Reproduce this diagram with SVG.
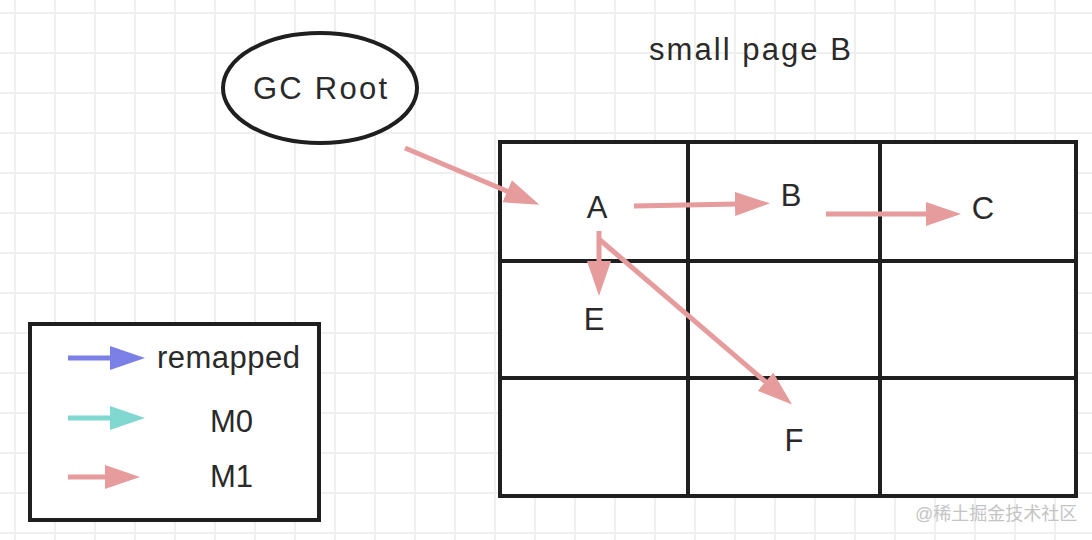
<svg xmlns="http://www.w3.org/2000/svg" width="1092" height="540" viewBox="0 0 1092 540">
<style>
text{font-family:"Liberation Sans",Arial,sans-serif;fill:#2a2a2a;font-size:31px}
.c{text-anchor:middle}
.box{fill:#fff;stroke:#1f1f1f;stroke-width:4}
.ln{fill:none;stroke:#1f1f1f;stroke-width:4}
.pk{stroke:#e69b9c;stroke-width:5;fill:none;marker-end:url(#hp)}
.bl{stroke:#7b80e6;stroke-width:5;fill:none;marker-end:url(#hb)}
.tl{stroke:#80d8d0;stroke-width:5;fill:none;marker-end:url(#ht)}
.wm{font-family:"Liberation Sans","Noto Sans CJK SC",sans-serif;font-size:18px;fill:#c4c4c4}
</style>
<defs>
<pattern id="grid" patternUnits="userSpaceOnUse" x="14" y="12" width="40" height="40">
<rect x="0" y="0" width="2" height="40" fill="#efefef"/>
<rect x="0" y="0" width="40" height="2" fill="#efefef"/>
</pattern>
<marker id="hp" markerUnits="userSpaceOnUse" markerWidth="40" markerHeight="30" refX="2" refY="12" orient="auto"><path d="M0,0 L35,12 L0,24 z" fill="#e69b9c"/></marker>
<marker id="hb" markerUnits="userSpaceOnUse" markerWidth="40" markerHeight="30" refX="2" refY="12" orient="auto"><path d="M0,0 L35,12 L0,24 z" fill="#7b80e6"/></marker>
<marker id="ht" markerUnits="userSpaceOnUse" markerWidth="40" markerHeight="30" refX="2" refY="12" orient="auto"><path d="M0,0 L35,12 L0,24 z" fill="#80d8d0"/></marker>
</defs>
<rect width="1092" height="540" fill="#fff"/>
<rect width="1092" height="540" fill="url(#grid)"/>

<g id="gc-root">
<ellipse cx="320" cy="88" rx="97" ry="55" class="box"/>
<text x="253" y="99" textLength="134" lengthAdjust="spacing">GC Root</text>
</g>

<g id="page-title"><text x="649" y="60" textLength="202" lengthAdjust="spacing">small page B</text></g>

<g id="page-table">
<rect x="500" y="142" width="576" height="354" class="box"/>
<path class="ln" d="M688,142 V496 M880,142 V496 M500,261 H1076 M500,378 H1076"/>
</g>

<g id="node-A"><text x="597" y="218" class="c">A</text></g>
<g id="node-B"><text x="791" y="206" class="c">B</text></g>
<g id="node-C"><text x="983" y="219" class="c">C</text></g>
<g id="node-E"><text x="594" y="330" class="c">E</text></g>
<g id="node-F"><text x="794" y="451" class="c">F</text></g>

<g id="connectors">
<line class="pk" x1="405" y1="148" x2="509" y2="192"/>
<line class="pk" x1="634" y1="206" x2="737" y2="204"/>
<line class="pk" x1="826" y1="214" x2="928" y2="214"/>
<line class="pk" x1="599" y1="231" x2="599" y2="263"/>
<line class="pk" x1="600" y1="240" x2="767" y2="383"/>
</g>

<g id="legend">
<rect x="30" y="324" width="289" height="196" class="box"/>
<line class="bl" x1="68" y1="358" x2="112" y2="358"/>
<text x="157" y="368" textLength="143" lengthAdjust="spacing">remapped</text>
<line class="tl" x1="68" y1="418" x2="112" y2="418"/>
<text x="210" y="432">M0</text>
<line class="pk" x1="68" y1="477" x2="107" y2="477"/>
<text x="210" y="487">M1</text>
</g>

<text x="915" y="520" class="wm">@稀土掘金技术社区</text>
</svg>
